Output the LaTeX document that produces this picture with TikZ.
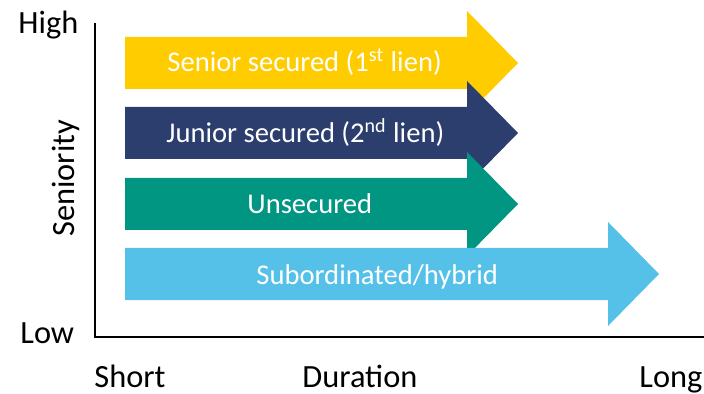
\documentclass[tikz,border=0pt]{standalone}
\usepackage{fontspec}
\setmainfont{Carlito}
\definecolor{lienyellow}{RGB}{255,204,0}
\definecolor{liennavy}{RGB}{43,62,110}
\definecolor{lienteal}{RGB}{0,150,130}
\definecolor{liensky}{RGB}{86,193,232}
\newcommand\debtarrow[4]{%
% body and head of one arrow, centred on y=#2, head starts at x=#3
    \fill[#4] (#1,#2-26) -- (#3,#2-26) -- (#3,#2-52)
    -- (#3+51,#2) -- (#3,#2+52) -- (#3,#2+26)
    -- (#1,#2+26) -- cycle;
    }

\begin{document}
\begin{tikzpicture}[x=0.5pt,y=-0.5pt,
    axislabel/.style={font=\fontsize{16.2}{19}\selectfont,text=black,inner sep=0pt,anchor=base west},
    arrowlabel/.style={font=\fontsize{14.3}{17}\selectfont,text=white,inner sep=0pt,anchor=base west}]
    \useasboundingbox (0,0) rectangle (704,394);
    % stacked from top to bottom, each one drawn over the one above
    \debtarrow{125}{63}{467}{lienyellow}
    \debtarrow{125}{133}{467}{liennavy}
    \debtarrow{125}{204}{467}{lienteal}
    \debtarrow{125}{274}{608}{liensky}

    \node[arrowlabel] (senior) at (167,72) {Senior secured (1\textsuperscript{st} lien)};
    \node[arrowlabel] (junior) at (166,143) {Junior secured (2\textsuperscript{nd} lien)};
    \node[arrowlabel] (unsec) at (247,214) {Unsecured};
    \node[arrowlabel] (subord) at (256,285) {Subordinated/hybrid};

    % axes
    \coordinate (ytop) at (95,23);
    \coordinate (origin) at (95,337);
    \coordinate (xend) at (704,337);
    \draw[line width=0.8pt] (ytop) -- (origin) -- (xend);

    \node[axislabel] (high) at (18,34) {High};
    \node[axislabel] (low) at (20,343) {Low};
    \node[axislabel,rotate=90] (seniority) at (74,237) {Seniority};
    \node[axislabel] (short) at (94,387) {Short};
    \node[axislabel] (duration) at (302,387) {Duration};
    \node[axislabel] (long) at (639,387) {Long};
    \end{tikzpicture}
\end{document}
